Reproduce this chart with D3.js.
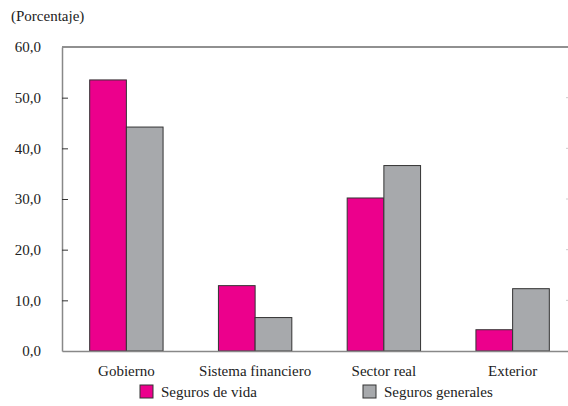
<!DOCTYPE html>
<html>
<head>
<meta charset="utf-8">
<script src="https://cdn.jsdelivr.net/npm/d3@7"></script>
<style>
  html, body { margin: 0; padding: 0; background: #fff; }
  svg { display: block; }
</style>
</head>
<body>
<svg id="chart" width="568" height="406"></svg>
<script>
// Composición de inversiones por sector (porcentaje)
const categories = ["Gobierno", "Sistema financiero", "Sector real", "Exterior"];
const seriesNames = ["Seguros de vida", "Seguros generales"];
const segurosVida = [53.5, 12.9, 30.2, 4.2];
const segurosGenerales = [44.2, 6.6, 36.6, 12.3];
const yTicks = [0, 10, 20, 30, 40, 50, 60];
const colors = ["#EC008C", "#A7A9AC"];

const svg = d3.select("#chart");
const plotLeft = 62, plotRight = 577, plotTop = 47, plotBottom = 351;
const fontSize = 15;
const serif = '"Liberation Serif", "Times New Roman", serif';
const styleText = sel => sel.style("font-family", serif).style("font-size", fontSize + "px").style("fill", "#222");

const x = d3.scaleBand().domain(categories).range([plotLeft, plotRight]).paddingInner(0.43).paddingOuter(0.215);
const xs = d3.scaleBand().domain(seriesNames).range([0, x.bandwidth()]);
const y = d3.scaleLinear().domain([0, 60]).range([plotBottom, plotTop]);

const fmt = v => d3.format(".1f")(v).replace(".", ",");

// Unit label
svg.append("text").attr("x", 11).attr("y", 21).text("(Porcentaje)").call(styleText);

// Top frame line
svg.append("line").attr("x1", plotLeft).attr("x2", plotRight).attr("y1", y(60)).attr("y2", y(60))
  .attr("stroke", "#222").attr("stroke-width", 1.2);

// Bars
const rows = categories.map((c, i) => ({ c, vals: [segurosVida[i], segurosGenerales[i]] }));
const g = svg.append("g");
rows.forEach(r => {
  r.vals.forEach((v, j) => {
    g.append("rect")
      .attr("x", x(r.c) + xs(seriesNames[j]))
      .attr("y", y(v))
      .attr("width", xs.bandwidth())
      .attr("height", y(0) - y(v))
      .attr("fill", colors[j])
      .attr("stroke", "#333")
      .attr("stroke-width", 1);
  });
});

// Left axis with inward ticks
const yAxis = d3.axisLeft(y).tickValues(yTicks).tickSize(0).tickPadding(0).tickFormat(fmt);
const ya = svg.append("g").attr("transform", `translate(${plotLeft},0)`).call(yAxis);
ya.select(".domain").attr("stroke", "#888").attr("stroke-width", 1.5);
ya.selectAll(".tick text").attr("x", -21).call(styleText);
ya.selectAll(".tick").filter(d => d > 0 && d < 60).append("line")
  .attr("x1", 0).attr("x2", 6).attr("stroke", "#333").attr("stroke-width", 1);

// Faint inward ticks on the right edge
svg.append("g").selectAll("line").data(yTicks.filter(d => d > 0 && d < 60)).join("line")
  .attr("x1", 566).attr("x2", plotRight).attr("y1", d => y(d)).attr("y2", d => y(d))
  .attr("stroke", "#ccc").attr("stroke-width", 1);

// Bottom axis
const xAxis = d3.axisBottom(x).tickSize(0).tickPadding(14);
const xa = svg.append("g").attr("transform", `translate(0,${plotBottom})`).call(xAxis);
xa.select(".domain").attr("stroke", "#888").attr("stroke-width", 1.5);
xa.selectAll(".tick text").call(styleText);

// Legend
const legendX = [140, 363];
seriesNames.forEach((name, j) => {
  svg.append("rect").attr("x", legendX[j]).attr("y", 385).attr("width", 13).attr("height", 13)
    .attr("fill", colors[j]).attr("stroke", "#333").attr("stroke-width", 1);
  svg.append("text").attr("x", legendX[j] + 21).attr("y", 397).text(name).call(styleText);
});
</script>
</body>
</html>
